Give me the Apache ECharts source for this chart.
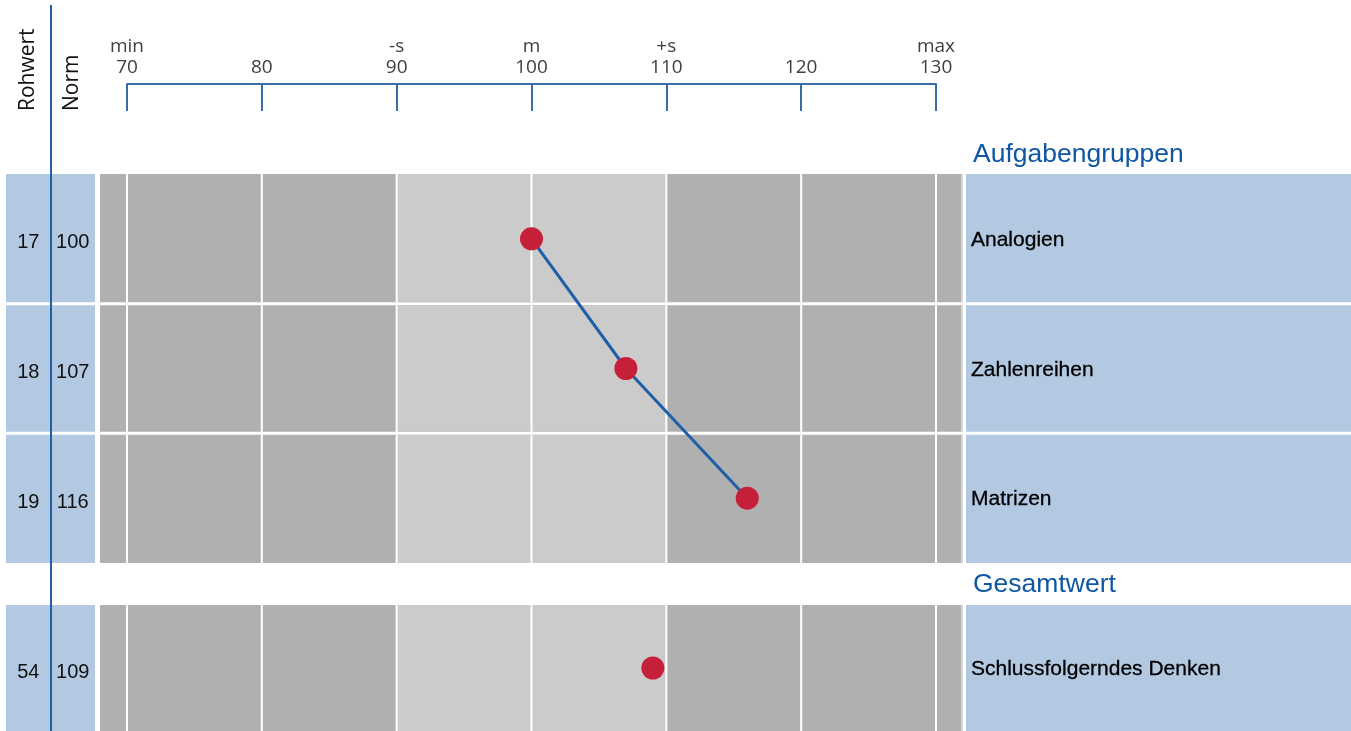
<!DOCTYPE html>
<html><head><meta charset="utf-8">
<script src="https://cdn.jsdelivr.net/npm/echarts@6/dist/echarts.min.js"></script>
<style>html,body{margin:0;padding:0;background:#fff;overflow:hidden}#c{width:1351px;height:731px}</style>
</head><body><div id="c"></div>
<script>
// ---- data ----
const groupNames = ['Analogien', 'Zahlenreihen', 'Matrizen'];
const groupRaw = [17, 18, 19];
const groupNorm = [100, 107, 116];
const totalNames = ['Schlussfolgerndes Denken'];
const totalRaw = [54];
const totalNorm = [109];
const scaleTicks = [70, 80, 90, 100, 110, 120, 130];
const scaleMarks = ['min', '', '-s', 'm', '+s', '', 'max'];
const sectionTitles = ['Aufgabengruppen', 'Gesamtwert'];
const columnTitles = ['Rohwert', 'Norm'];

// ---- layout / style ----
const SCALE_MIN = 68, SCALE_MAX = 132;
const DARK = '#b0b0b0', LIGHT = '#cbcbcb', PANEL = '#b3c9e1';
const AXIS_BLUE = '#3a6da7', LINE_BLUE = '#1f5fa8', DOT = '#c61f3a', TITLE_BLUE = '#0f57a2';
const lightFrom = scaleTicks[scaleMarks.indexOf('-s')];
const lightTo = scaleTicks[scaleMarks.indexOf('+s')];
const GAP = 1.5;

function rowSpan(api, idx, n, xv) {
  const cy = api.coord([xv, idx])[1];
  const band = api.size([0, 1])[1];
  let top = cy - band / 2, bottom = cy + band / 2;
  if (idx > 0) top += GAP;
  if (idx < n - 1) bottom -= GAP;
  return { cy: cy, top: top, bottom: bottom };
}

function bgRender(n) {
  return function (params, api) {
    const idx = api.value(1);
    const r = rowSpan(api, idx, n, SCALE_MIN);
    const cs = params.coordSys;
    const x1 = api.coord([lightFrom, idx])[0], x2 = api.coord([lightTo, idx])[0];
    const h = r.bottom - r.top;
    const children = [
      { type: 'rect', shape: { x: cs.x, y: r.top, width: cs.width, height: h }, style: { fill: DARK } },
      { type: 'rect', shape: { x: x1, y: r.top, width: x2 - x1, height: h }, style: { fill: LIGHT } }
    ];
    scaleTicks.forEach(function (t) {
      const x = api.coord([t, idx])[0];
      children.push({ type: 'rect', shape: { x: x - 1, y: r.top, width: 2, height: h }, style: { fill: '#ffffff' } });
    });
    children.push({ type: 'rect', shape: { x: cs.x + cs.width - 2, y: r.top, width: 2, height: h }, style: { fill: '#d8d8d8' } });
    return { type: 'group', children: children };
  };
}

function leftRender(n) {
  return function (params, api) {
    const idx = api.value(1);
    const r = rowSpan(api, idx, n, 0);
    const cs = params.coordSys;
    const tStyle = function (x, txt) {
      return { type: 'text', style: { x: x, y: r.cy + 4, text: txt, font: '20px "Liberation Sans", Arial, sans-serif', fill: '#111',
        textAlign: 'center', align: 'center', textVerticalAlign: 'middle', verticalAlign: 'middle' } };
    };
    return { type: 'group', children: [
      { type: 'rect', shape: { x: cs.x, y: r.top, width: cs.width, height: r.bottom - r.top }, style: { fill: PANEL } },
      tStyle(api.coord([0.5, idx])[0], String(api.value(2))),
      tStyle(api.coord([1.5, idx])[0], String(api.value(3)))
    ] };
  };
}

function rightRender(n, names) {
  return function (params, api) {
    const idx = api.value(1);
    const r = rowSpan(api, idx, n, 0);
    const cs = params.coordSys;
    return { type: 'group', children: [
      { type: 'rect', shape: { x: cs.x, y: r.top, width: cs.width, height: r.bottom - r.top }, style: { fill: PANEL } },
      { type: 'text', style: { x: cs.x + 5, y: r.cy + 1.5, text: names[idx], font: '21px "Liberation Sans", Arial, sans-serif', fill: '#000',
        stroke: '#000', lineWidth: 0.3,
        textAlign: 'left', align: 'left', textVerticalAlign: 'middle', verticalAlign: 'middle' } }
    ] };
  };
}

const grids = [
  { left: 127, top: 84, width: 809, height: 27 },     // 0 header scale
  { left: 100, top: 174, width: 863, height: 389 },   // 1 main groups
  { left: 6, top: 174, width: 89, height: 389 },      // 2 left groups
  { left: 966, top: 174, width: 385, height: 389 },   // 3 right groups
  { left: 100, top: 605, width: 863, height: 127 },   // 4 main total
  { left: 6, top: 605, width: 89, height: 127 },      // 5 left total
  { left: 966, top: 605, width: 385, height: 127 }    // 6 right total
].map(function (g) { return Object.assign({ containLabel: false, show: false }, g); });

const hiddenVal = function (gi, min, max) { return { type: 'value', gridIndex: gi, min: min, max: max, show: false }; };
const hiddenCat = function (gi, data) { return { type: 'category', gridIndex: gi, data: data, inverse: true, show: false, boundaryGap: true }; };

const xAxes = [
  {
    type: 'value', gridIndex: 0, position: 'top', min: 70, max: 130, interval: 10,
    axisLine: { show: true, onZero: false, lineStyle: { color: AXIS_BLUE, width: 2 } },
    axisTick: { show: true, inside: true, length: 27, lineStyle: { color: AXIS_BLUE, width: 2 } },
    splitLine: { show: false },
    axisLabel: {
      margin: 6, fontFamily: '"Open Sans", sans-serif', fontSize: 19, color: '#404040', lineHeight: 21,
      formatter: function (v) { const i = scaleTicks.indexOf(v); const m = i >= 0 ? scaleMarks[i] : ''; return (m || ' ') + '\n' + v; }
    }
  },
  hiddenVal(1, SCALE_MIN, SCALE_MAX), hiddenVal(2, 0, 2), hiddenVal(3, 0, 1),
  hiddenVal(4, SCALE_MIN, SCALE_MAX), hiddenVal(5, 0, 2), hiddenVal(6, 0, 1)
];
const yAxes = [
  { type: 'value', gridIndex: 0, show: false, min: 0, max: 1 },
  hiddenCat(1, groupNames), hiddenCat(2, groupNames), hiddenCat(3, groupNames),
  hiddenCat(4, totalNames), hiddenCat(5, totalNames), hiddenCat(6, totalNames)
];

const series = [
  { type: 'custom', xAxisIndex: 1, yAxisIndex: 1, z: 1, silent: true, renderItem: bgRender(groupNames.length),
    encode: { x: 0, y: 1 }, data: groupNames.map(function (_, i) { return [SCALE_MIN, i]; }) },
  { type: 'custom', xAxisIndex: 2, yAxisIndex: 2, z: 1, silent: true, renderItem: leftRender(groupNames.length),
    encode: { x: 0, y: 1 }, data: groupRaw.map(function (r, i) { return [1, i, r, groupNorm[i]]; }) },
  { type: 'custom', xAxisIndex: 3, yAxisIndex: 3, z: 1, silent: true, renderItem: rightRender(groupNames.length, groupNames),
    encode: { x: 0, y: 1 }, data: groupNames.map(function (_, i) { return [0.5, i]; }) },
  { type: 'custom', xAxisIndex: 4, yAxisIndex: 4, z: 1, silent: true, renderItem: bgRender(totalNames.length),
    encode: { x: 0, y: 1 }, data: totalNames.map(function (_, i) { return [SCALE_MIN, i]; }) },
  { type: 'custom', xAxisIndex: 5, yAxisIndex: 5, z: 1, silent: true, renderItem: leftRender(totalNames.length),
    encode: { x: 0, y: 1 }, data: totalRaw.map(function (r, i) { return [1, i, r, totalNorm[i]]; }) },
  { type: 'custom', xAxisIndex: 6, yAxisIndex: 6, z: 1, silent: true, renderItem: rightRender(totalNames.length, totalNames),
    encode: { x: 0, y: 1 }, data: totalNames.map(function (_, i) { return [0.5, i]; }) },
  { type: 'line', xAxisIndex: 1, yAxisIndex: 1, z: 5, symbol: 'circle', symbolSize: 23, animation: false,
    itemStyle: { color: DOT, opacity: 1 }, lineStyle: { color: LINE_BLUE, width: 3 },
    data: groupNorm.map(function (v, i) { return [v, i]; }) },
  { type: 'scatter', xAxisIndex: 4, yAxisIndex: 4, z: 5, symbol: 'circle', symbolSize: 23, animation: false,
    itemStyle: { color: DOT, opacity: 1 }, data: totalNorm.map(function (v, i) { return [v, i]; }) }
];

const titleStyle = function (txt) {
  return { text: txt, font: '26.5px "Liberation Sans", Arial, sans-serif', fill: TITLE_BLUE,
    textAlign: 'left', align: 'left', textVerticalAlign: 'middle', verticalAlign: 'middle' };
};
const colStyle = function (txt) {
  return { text: txt, font: '21px "Open Sans", sans-serif', fill: '#111',
    textAlign: 'left', align: 'left', textVerticalAlign: 'middle', verticalAlign: 'middle' };
};

const graphic = [
  { type: 'text', x: 973, y: 155, style: titleStyle(sectionTitles[0]) },
  { type: 'text', x: 973, y: 585, style: titleStyle(sectionTitles[1]) },
  { type: 'text', x: 28, y: 111, rotation: Math.PI / 2, style: colStyle(columnTitles[0]) },
  { type: 'text', x: 72, y: 111, rotation: Math.PI / 2, style: colStyle(columnTitles[1]) },
  { type: 'line', z: 100, shape: { x1: 51, y1: 5, x2: 51, y2: 731 }, style: { stroke: LINE_BLUE, lineWidth: 2 } }
];

const chart = echarts.init(document.getElementById('c'));
chart.setOption({
  animation: false,
  backgroundColor: '#ffffff',
  grid: grids, xAxis: xAxes, yAxis: yAxes, series: series, graphic: graphic
});
</script>
</body></html>
